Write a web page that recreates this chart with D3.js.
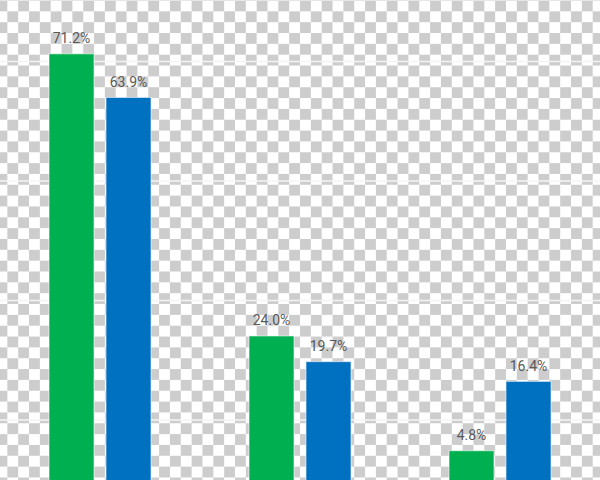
<!DOCTYPE html>
<html>
<head>
<meta charset="utf-8">
<script src="https://cdn.jsdelivr.net/npm/d3@7"></script>
<style>
  html, body { margin: 0; padding: 0; background: #fff; }
  #chart .grid line { stroke: #f4f4f4; stroke-width: 1.5px; }
  #chart .grid path { display: none; }
</style>
</head>
<body>
<div id="chart"></div>
<script>
// categories and series
const categories = ["A", "B", "C"];
const seriesNames = ["green", "blue"];
const greenValues = [71.2, 24.0, 4.8];
const blueValues = [63.9, 19.7, 16.4];
const gridValues = [10, 30, 50, 70];

const seriesColors = { green: "#00b050", blue: "#0070c0" };

const width = 600, height = 480;

const svg = d3.select("#chart").append("svg")
    .attr("width", width)
    .attr("height", height);

// transparency checkerboard behind the chart
const cell = 10.84;
const pat = svg.append("defs").append("pattern")
    .attr("id", "checker")
    .attr("patternUnits", "userSpaceOnUse")
    .attr("x", -3.5).attr("y", 0.5)
    .attr("width", cell * 2).attr("height", cell * 2);
pat.append("rect").attr("width", cell * 2).attr("height", cell * 2).attr("fill", "#ffffff");
pat.append("rect").attr("width", cell).attr("height", cell).attr("fill", "#cdcdcd");
pat.append("rect").attr("x", cell).attr("y", cell).attr("width", cell).attr("height", cell).attr("fill", "#cdcdcd");

svg.append("rect")
    .attr("width", width).attr("height", height)
    .attr("fill", "url(#checker)");

// scales
const x0 = d3.scaleBand()
    .domain(categories)
    .range([0, width])
    .paddingInner(0.49)
    .paddingOuter(0.245);

const x1 = d3.scaleBand()
    .domain(seriesNames)
    .range([0, x0.bandwidth()])
    .paddingInner(0.21);

const y = d3.scaleLinear()
    .domain([0, 80.2])
    .range([479.4, 0]);

// gridlines
svg.append("g")
    .attr("class", "grid")
    .call(d3.axisLeft(y)
        .tickValues(gridValues)
        .tickSize(-width)
        .tickFormat(""));

const rows = categories.map((c, i) => ({
    cat: c,
    values: [
        { key: "green", value: greenValues[i] },
        { key: "blue", value: blueValues[i] }
    ]
}));

const groups = svg.append("g").selectAll("g")
    .data(rows)
    .join("g")
    .attr("transform", d => "translate(" + x0(d.cat) + ",0)");

groups.selectAll("rect")
    .data(d => d.values)
    .join("rect")
    .attr("x", d => x1(d.key))
    .attr("y", d => y(d.value))
    .attr("width", x1.bandwidth())
    .attr("height", d => y(0) - y(d.value) + 2)
    .attr("fill", d => seriesColors[d.key])
    .attr("stroke", "rgba(255,255,255,0.6)")
    .attr("stroke-width", 1);

groups.selectAll("text")
    .data(d => d.values)
    .join("text")
    .attr("x", d => x1(d.key) + x1.bandwidth() / 2)
    .attr("y", d => y(d.value) - 10.5)
    .attr("text-anchor", "middle")
    .attr("font-family", "Roboto, 'Liberation Sans', sans-serif")
    .attr("font-size", "14px")
    .attr("fill", "#595959")
    .text(d => d.value.toFixed(1) + "%");
</script>
</body>
</html>
